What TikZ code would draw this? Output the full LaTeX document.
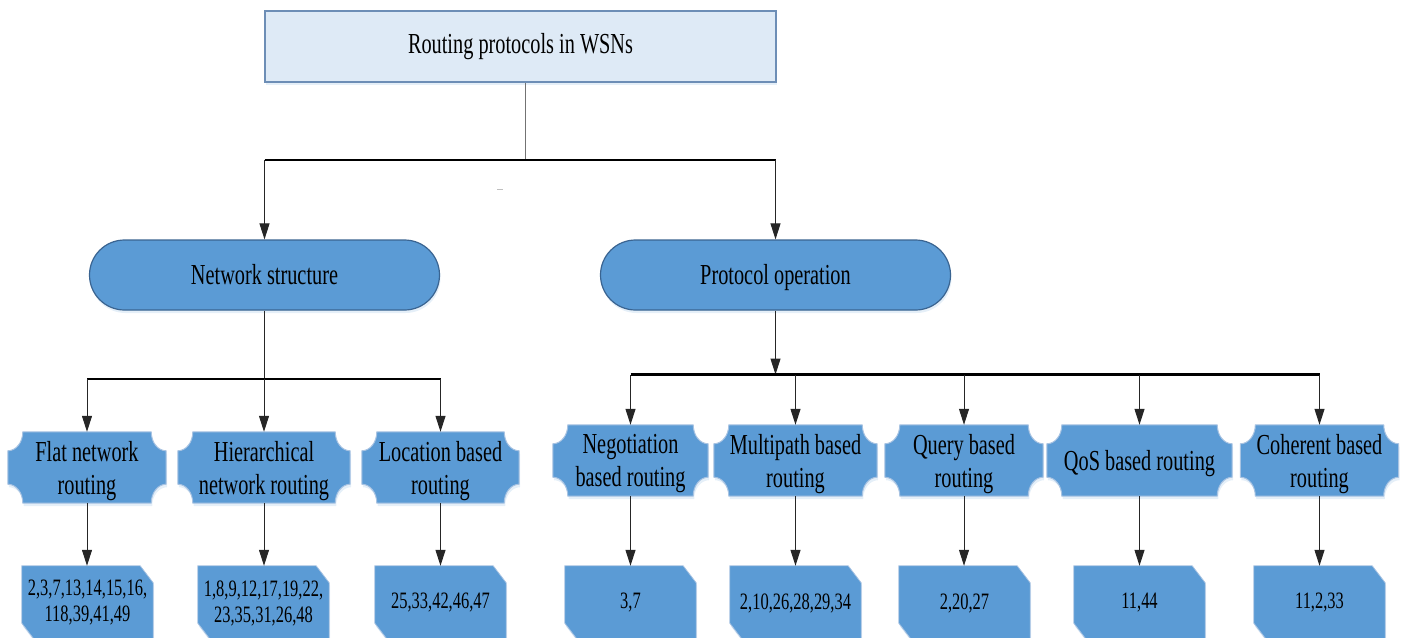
\documentclass[tikz,border=0pt]{standalone}
\usepackage{fontspec}
\setmainfont{Liberation Serif}[FakeStretch=0.7]
\usetikzlibrary{arrows.meta,calc,backgrounds,shadows}
\definecolor{topfill}{HTML}{DEEAF6}
\definecolor{topdraw}{HTML}{6D8EB6}
\definecolor{mblue}{HTML}{5B9BD5}
\definecolor{darkb}{HTML}{3A6491}
\definecolor{lightb}{HTML}{A8C3E2}
\tikzset{
  every node/.style={inner sep=0pt, align=center, text=black},
  mshadow/.style={drop shadow={shadow xshift=1pt, shadow yshift=-3pt, fill=mblue!45, opacity=0.35}},
  topbox/.style={draw=topdraw, line width=1.5pt, fill=topfill, minimum width=511pt, minimum height=71pt, font=\fontsize{29}{32}\selectfont, text height=20pt, text depth=6pt, mshadow},
  stadium/.style={draw=darkb, line width=1.2pt, fill=mblue, rounded corners=35pt, minimum width=350pt, minimum height=70pt, font=\fontsize{29}{32}\selectfont, text height=22pt, text depth=4pt, mshadow},
  catnode/.style={minimum height=71pt, font=\fontsize{29}{33}\selectfont, text depth=0pt},
  refnode/.style={minimum width=131pt, minimum height=74pt, font=\fontsize{23.5}{26}\selectfont},
  plaquestyle/.style={fill=mblue, draw=lightb, line width=1pt, mshadow},
  snipstyle/.style={fill=mblue, draw=lightb, line width=0.8pt, mshadow},
  bus/.style={line width=2.6pt, black},
  link/.style={line width=1pt, black!85},
  arr/.style={link, -{Triangle[length=16pt,width=10pt]}},
}
\newcommand\plaquepath[1]{%
  \path[plaquestyle] let \p1=(#1.north west), \p2=(#1.south east) in
  (\x1+15pt,\y1) -- (\x2-15pt,\y1)
  .. controls (\x2-15pt,\y1-10.5pt) and (\x2-8.3pt,\y1-19pt) .. (\x2,\y1-19pt)
  -- (\x2,\y2+19pt)
  .. controls (\x2-8.3pt,\y2+19pt) and (\x2-15pt,\y2+10.5pt) .. (\x2-15pt,\y2)
  -- (\x1+15pt,\y2)
  .. controls (\x1+15pt,\y2+10.5pt) and (\x1+8.3pt,\y2+19pt) .. (\x1,\y2+19pt)
  -- (\x1,\y1-19pt)
  .. controls (\x1+8.3pt,\y1-19pt) and (\x1+15pt,\y1-10.5pt) .. cycle;}
\newcommand\snippath[1]{%
  \path[snipstyle] let \p1=(#1.north west), \p2=(#1.south east) in
  (\x1,\y1) -- (\x2-13pt,\y1) -- (\x2,\y1-17pt) -- (\x2,\y2)
  -- (\x1+13pt,\y2) -- (\x1,\y2+17pt) -- cycle;}
\begin{document}
\begin{tikzpicture}[x=1pt,y=-1pt]
\useasboundingbox (0,0) rectangle (1404,637);

% main nodes
\node[topbox] (top) at (520.5,46.5) {Routing protocols in WSNs};
\node[stadium] (ns) at (264.5,275) {Network structure};
\node[stadium] (po) at (775.5,275) {Protocol operation};

% categories
\node[catnode, minimum width=158pt] (c1) at (87,467.5) {Flat network\\routing};
\node[catnode, minimum width=172pt] (c2) at (264,467.5) {Hierarchical\\network routing};
\node[catnode, minimum width=157pt] (c3) at (440.5,467.5) {Location based\\routing};
\node[catnode, minimum width=155pt] (c4) at (630.5,460.5) {Negotiation\\based routing};
\node[catnode, minimum width=163pt] (c5) at (795.5,460.5) {Multipath based\\routing};
\node[catnode, minimum width=158pt] (c6) at (964,460.5) {Query based\\routing};
\node[catnode, minimum width=185pt] (c7) at (1139.5,460.5) {QoS based routing};
\node[catnode, minimum width=158pt] (c8) at (1319.5,460.5) {Coherent based\\routing};

% reference boxes
\node[refnode] (r1) at (87.5,603) {2,3,7,13,14,15,16,\\118,39,41,49};
\node[refnode] (r2) at (263.5,603) {1,8,9,12,17,19,22,\\23,35,31,26,48};
\node[refnode] (r3) at (440.5,603) {25,33,42,46,47};
\node[refnode] (r4) at (630.5,603) {3,7};
\node[refnode] (r5) at (795.5,603) {2,10,26,28,29,34};
\node[refnode] (r6) at (964.5,603) {2,20,27};
\node[refnode] (r7) at (1139.5,603) {11,44};
\node[refnode] (r8) at (1319.5,603) {11,2,33};

\begin{pgfonlayer}{background}
  \begin{scope}
    \clip (0,0) rectangle (1404,637);
    \foreach \c in {c1,c2,c3,c4,c5,c6,c7,c8} {\plaquepath{\c}}
    \foreach \r in {r1,r2,r3,r4,r5,r6,r7,r8} {\snippath{\r}}
  \end{scope}
\end{pgfonlayer}

% bus coordinates
\coordinate (b1) at (525,160);
\coordinate (b2) at (264.5,379);
\coordinate (b3) at (776,374.5);

% connectors
\draw[link, black!55] (top.south -| b1) -- (b1);
\draw[bus] (b1 -| ns) -- (b1 -| po);
\draw[arr] (b1 -| ns) -- (ns.north);
\draw[arr] (b1 -| po) -- (po.north);

\draw[link] (ns.south) -- (ns.south |- b2);
\draw[bus] (b2 -| c1) -- (b2 -| c3);
\foreach \c in {c1,c2,c3} {\draw[arr] (b2 -| \c) -- (\c.north);}

\draw[arr] (po.south) -- (po.south |- b3);
\draw[bus] (b3 -| c4) -- (b3 -| c8);
\foreach \c in {c4,c5,c6,c7,c8} {\draw[arr] (b3 -| \c) -- (\c.north);}

\foreach \i in {1,...,8} {\draw[arr] (c\i.south) -- (c\i.south |- r\i.north);}

% small grey mark
\draw[gray!50, line width=1pt] (497,189) -- (503,189);
\end{tikzpicture}
\end{document}
